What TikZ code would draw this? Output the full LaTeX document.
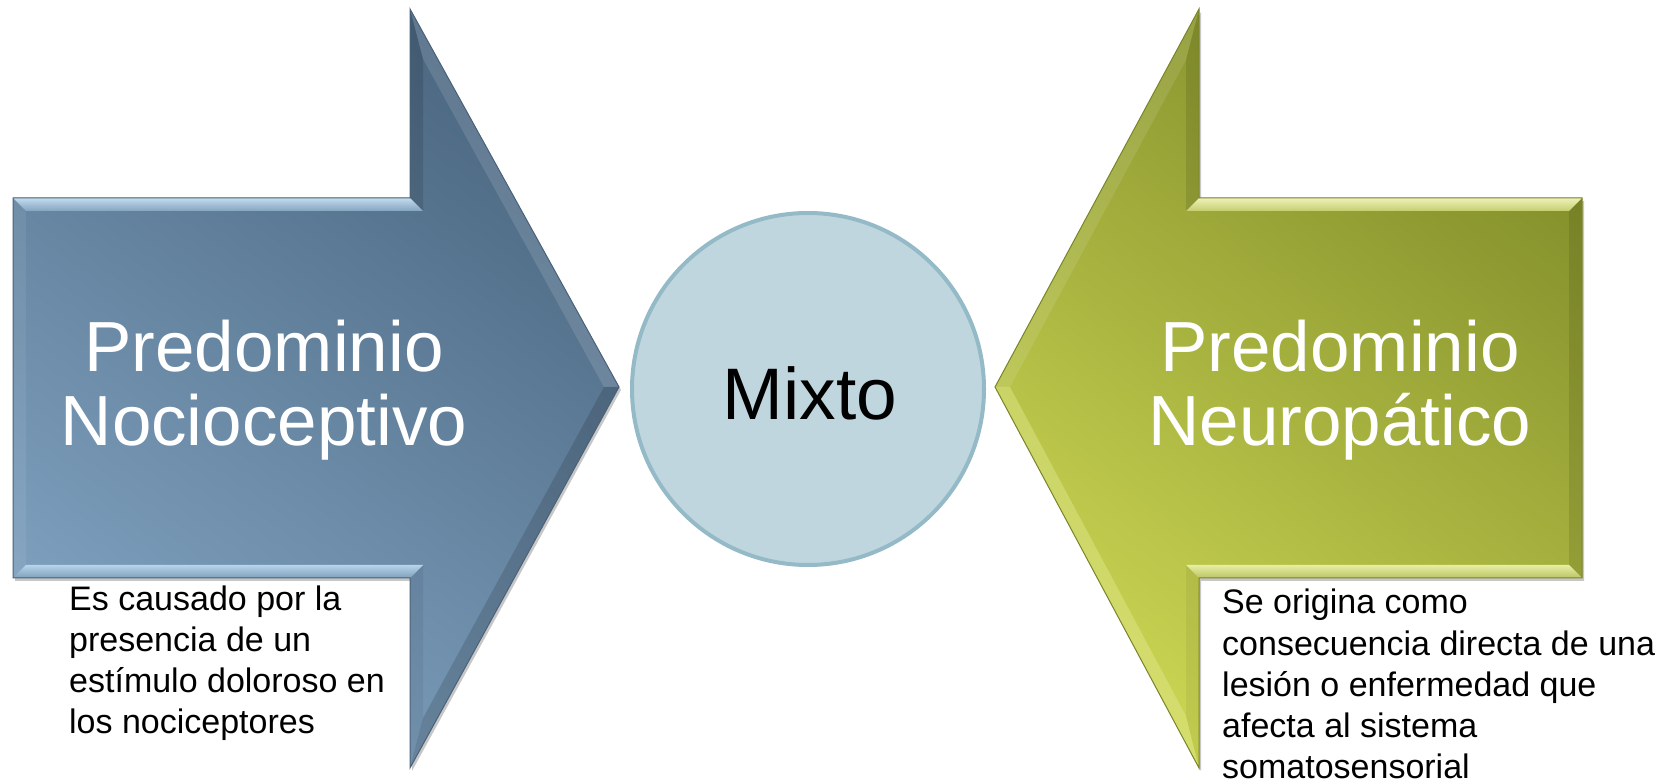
\documentclass[tikz,border=0pt]{standalone}
\usepackage{fontspec}
\setmainfont{Liberation Sans}
\definecolor{blueD}{HTML}{4C6882}
\definecolor{blueL}{HTML}{7FA1BF}
\definecolor{blueHi}{HTML}{A9CCE7}
\definecolor{blueEdge}{HTML}{4A6279}
\definecolor{greenD}{HTML}{828E2A}
\definecolor{greenL}{HTML}{CAD553}
\definecolor{greenHi}{HTML}{E2E98C}
\definecolor{greenEdge}{HTML}{7A8426}
\definecolor{circFill}{HTML}{C0D6DE}
\definecolor{circEdge}{HTML}{93BAC6}
\begin{document}
\begin{tikzpicture}[x=1pt,y=1pt,
  bigtext/.style={text=white, font=\fontsize{71}{74}\selectfont, align=center, inner sep=0pt, anchor=base},
  smalltext/.style={text=black, font=\fontsize{34}{41.3}\selectfont, align=left, inner sep=0pt, anchor=base west},
  shadowed/.style={fill=black, opacity=0.22, transform canvas={shift={(2pt,-3pt)}}},
]
\useasboundingbox (0,0) rectangle (1678,784);

% ---------- left arrow (outer and inner bevel outline) ----------
\coordinate (A1) at (13,586);  \coordinate (A2) at (410,586);
\coordinate (A3) at (410,775); \coordinate (A4) at (619,397);
\coordinate (A5) at (410,16);  \coordinate (A6) at (410,206);
\coordinate (A7) at (13,206);
\coordinate (B1) at (26,573);  \coordinate (B2) at (423,573);
\coordinate (B3) at (423,725); \coordinate (B4) at (604,397);
\coordinate (B5) at (423,66);  \coordinate (B6) at (423,219);
\coordinate (B7) at (26,219);

\fill[shadowed] (A1)--(A2)--(A3)--(A4)--(A5)--(A6)--(A7)--cycle;
\shade[top color=blueD, bottom color=blueL, shading angle=-35]
  (A1)--(A2)--(A3)--(A4)--(A5)--(A6)--(A7)--cycle;
\shade[top color=blueHi!70!white, bottom color=blueHi!60!blueD] (A1)--(A2)--(B2)--(B1)--cycle;
\fill[white, opacity=0.07] (A1)--(B1)--(B7)--(A7)--cycle;
\fill[black, opacity=0.12] (A2)--(A3)--(B3)--(B2)--cycle;
\fill[white, opacity=0.12] (A3)--(A4)--(B4)--(B3)--cycle;
\fill[black, opacity=0.14] (A4)--(A5)--(B5)--(B4)--cycle;
\fill[black, opacity=0.06] (A5)--(A6)--(B6)--(B5)--cycle;
\shade[top color=blueHi!85!white, bottom color=blueHi!55!blueD] (B7)--(B6)--(A6)--(A7)--cycle;
\draw[blueEdge, line width=1pt] (A1)--(A2)--(A3)--(A4)--(A5)--(A6)--(A7)--cycle;

% ---------- right arrow ----------
\coordinate (C1) at (1582,586); \coordinate (C2) at (1199,586);
\coordinate (C3) at (1199,775); \coordinate (C4) at (995,397);
\coordinate (C5) at (1199,16);  \coordinate (C6) at (1199,206);
\coordinate (C7) at (1582,206);
\coordinate (D1) at (1569,573); \coordinate (D2) at (1186,573);
\coordinate (D3) at (1186,724); \coordinate (D4) at (1010,397);
\coordinate (D5) at (1186,68);  \coordinate (D6) at (1186,219);
\coordinate (D7) at (1569,219);

\fill[shadowed] (C1)--(C2)--(C3)--(C4)--(C5)--(C6)--(C7)--cycle;
\shade[top color=greenD, bottom color=greenL, shading angle=-35]
  (C1)--(C2)--(C3)--(C4)--(C5)--(C6)--(C7)--cycle;
\shade[top color=greenHi!60!white, bottom color=greenHi!70!greenD] (C1)--(C2)--(D2)--(D1)--cycle;
\fill[black, opacity=0.10] (C1)--(D1)--(D7)--(C7)--cycle;
\fill[black, opacity=0.10] (C2)--(C3)--(D3)--(D2)--cycle;
\fill[white, opacity=0.10] (C3)--(C4)--(D4)--(D3)--cycle;
\fill[greenHi, opacity=0.45] (C4)--(C5)--(D5)--(D4)--cycle;
\fill[black, opacity=0.05] (C5)--(C6)--(D6)--(D5)--cycle;
\shade[top color=greenHi!80!white, bottom color=greenHi!60!greenD] (D7)--(D6)--(C6)--(C7)--cycle;
\draw[greenEdge, line width=1pt] (C1)--(C2)--(C3)--(C4)--(C5)--(C6)--(C7)--cycle;

% ---------- centre circle ----------
\node[circle, draw=circEdge, line width=4pt, fill=circFill, minimum size=352pt, inner sep=0pt] (mix) at (808,395) {};

% ---------- texts (base anchor = last line baseline) ----------
\node[bigtext] (noci) at (264,338) {Predominio\\Nocioceptivo};
\node[bigtext] (neuro) at (1340,338) {Predominio\\Neuropático};
\node[text=black, font=\fontsize{73}{76}\selectfont, inner sep=0pt, anchor=base] (mixtxt) at (810,364) {Mixto};
\node[smalltext] (nocidesc) at (69,50) {Es causado por la\\presencia de un\\estímulo doloroso en\\los nociceptores};
\node[smalltext] (neurodesc) at (1222,5) {Se origina como\\consecuencia directa de una\\lesión o enfermedad que\\afecta al sistema\\somatosensorial};
\end{tikzpicture}
\end{document}
